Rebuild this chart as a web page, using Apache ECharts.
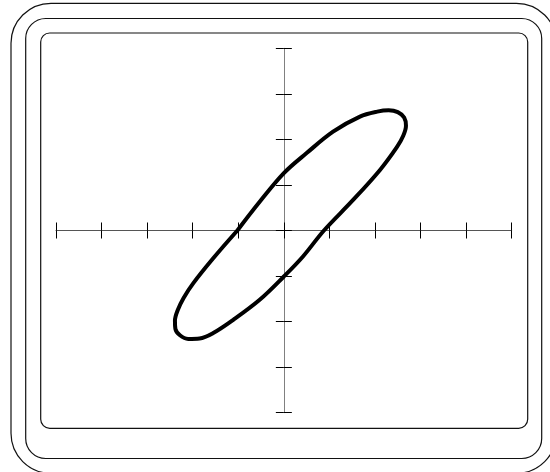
<!DOCTYPE html>
<html>
<head>
<meta charset="utf-8">
<script src="https://cdn.jsdelivr.net/npm/echarts@6/dist/echarts.min.js"></script>
<style>
  html, body { margin: 0; padding: 0; background: #ffffff; }
  #chart { width: 550px; height: 472px; }
</style>
</head>
<body>
<div id="chart"></div>
<script>
// Axis ranges (one division per unit)
const xRange = [-5, 5];
const yRange = [-4, 4];

// Loop trace, in divisions, walked once around and closed on itself
const loopX = [-1.02, -0.53, 0.00, 0.50, 1.08, 1.67, 2.05, 2.30, 2.50, 2.64, 2.68, 2.62, 2.48, 2.11, 1.52, 0.88,
               0.42, 0.00, -0.53, -1.11, -1.55, -1.85, -2.10, -2.28, -2.38, -2.39, -2.33, -2.20, -1.99, -1.55, -1.02];
const loopY = [0.00, 0.63, 1.26, 1.70, 2.17, 2.50, 2.61, 2.64, 2.60, 2.48, 2.30, 2.08, 1.83, 1.33, 0.67, 0.00,
               -0.57, -1.01, -1.52, -1.96, -2.25, -2.37, -2.38, -2.30, -2.16, -1.98, -1.75, -1.48, -1.16, -0.61, 0.00];

const loopData = loopX.map((x, i) => [x, loopY[i]]);

const chart = echarts.init(document.getElementById('chart'), null, { renderer: 'canvas' });

// Crosshair axes: one copy draws ticks on one side, the other copy on the opposite side
function hAxis(inside, showLine) {
  return {
    type: 'value', min: xRange[0], max: xRange[1], interval: 1, position: 'bottom',
    axisLine: { show: showLine, onZero: true, onZeroAxisIndex: 0, lineStyle: { color: '#555', width: 1 } },
    axisTick: { show: true, inside: inside, length: 8, lineStyle: { color: '#000', width: 1 } },
    axisLabel: { show: false }, splitLine: { show: false }
  };
}
function vAxis(inside, showLine) {
  return {
    type: 'value', min: yRange[0], max: yRange[1], interval: 1, position: 'left',
    axisLine: { show: showLine, onZero: true, onZeroAxisIndex: 0, lineStyle: { color: '#808080', width: 1 } },
    axisTick: { show: true, inside: inside, length: 8, lineStyle: { color: '#000', width: 1 } },
    axisLabel: { show: false }, splitLine: { show: false }
  };
}

chart.setOption({
  animation: false,
  backgroundColor: '#ffffff',
  grid: { left: 56, top: 48.3, width: 455.7, height: 364.4 },
  xAxis: [hAxis(false, true), hAxis(true, false)],
  yAxis: [vAxis(false, true), vAxis(true, false)],
  graphic: [
    { type: 'rect', shape: { x: 11, y: 3.3, width: 545.4, height: 470, r: 40 },
      style: { fill: 'none', stroke: '#111', lineWidth: 1.2 }, silent: true, z: 0 },
    { type: 'rect', shape: { x: 25.7, y: 18.5, width: 516, height: 440, r: 20 },
      style: { fill: 'none', stroke: '#111', lineWidth: 1.2 }, silent: true, z: 0 },
    { type: 'rect', shape: { x: 40.7, y: 33, width: 487, height: 395.3, r: 9 },
      style: { fill: 'none', stroke: '#111', lineWidth: 1.2 }, silent: true, z: 0 }
  ],
  series: [{
    type: 'line',
    xAxisIndex: 0, yAxisIndex: 0,
    data: loopData,
    smooth: 0.35,
    showSymbol: false,
    lineStyle: { color: '#000', width: 4, join: 'round', cap: 'round' },
    z: 5
  }]
});
</script>
</body>
</html>
